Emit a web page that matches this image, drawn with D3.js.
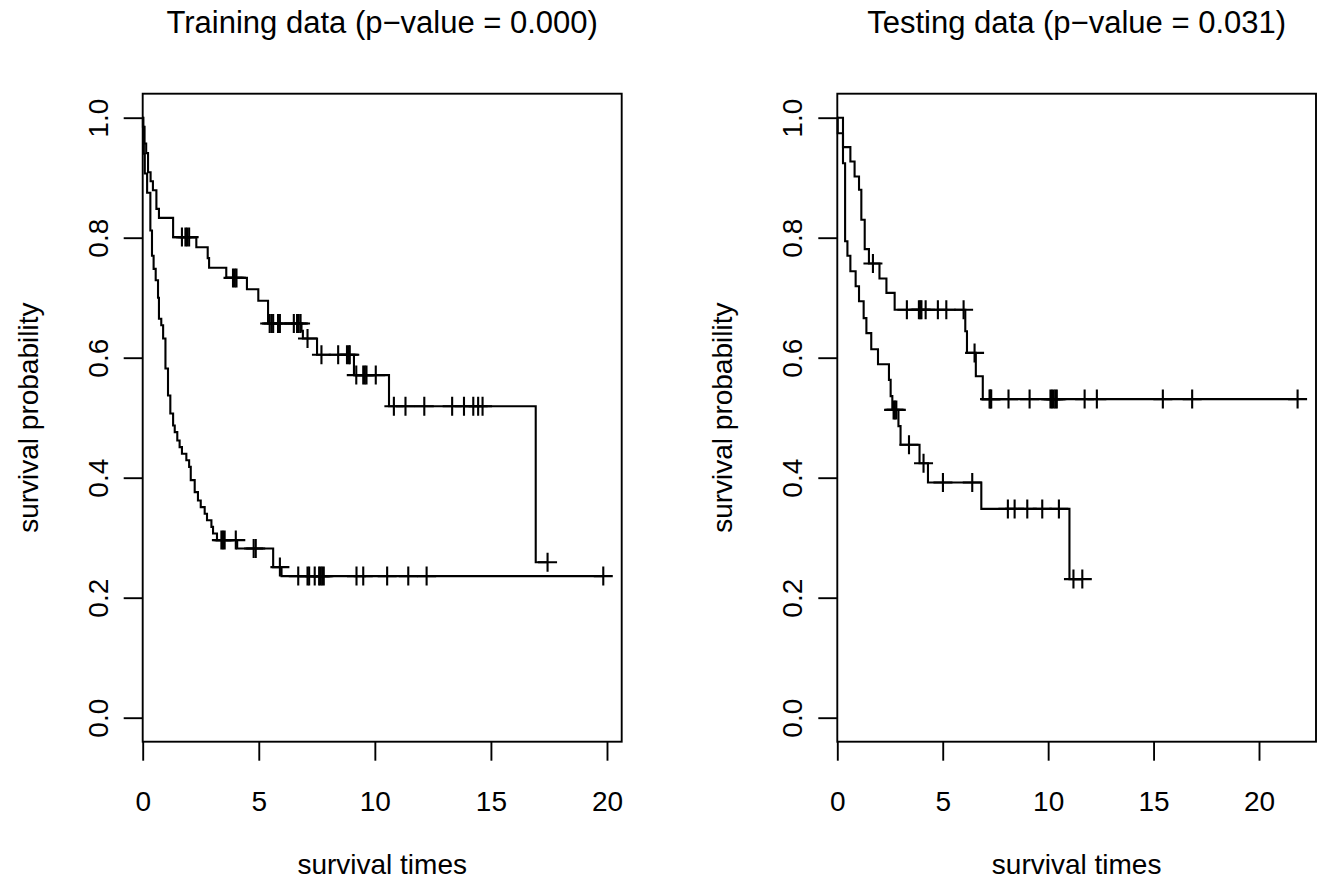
<!DOCTYPE html>
<html>
<head>
<meta charset="utf-8">
<script src="https://cdn.jsdelivr.net/npm/d3@7"></script>
<style>
  html, body { margin: 0; padding: 0; background: #fff; }
  svg text { font-family: "Liberation Sans", Arial, Helvetica, sans-serif; fill: #000; }
</style>
</head>
<body>
<div id="chart"></div>
<script>
// Kaplan-Meier curves: step times, survival after each step, censor times
const titles = ['Training data (p\u2212value = 0.000)', 'Testing data (p\u2212value = 0.031)'];
const xLabel = 'survival times';
const yLabel = 'survival probability';
const xTicks = [0, 5, 10, 15, 20];
const yTicks = [0, 0.2, 0.4, 0.6, 0.8, 1.0];

// training, low risk group
const trainLowTimes = [0.03, 0.08, 0.15, 0.23, 0.34, 0.44, 0.59, 0.70, 1.31, 2.31, 2.80, 2.86, 3.60, 4.49, 4.98, 5.40, 6.84, 6.90, 7.51, 9.10, 10.61, 16.93];
const trainLowSurv  = [0.985, 0.957, 0.941, 0.909, 0.894, 0.879, 0.848, 0.833, 0.801, 0.784, 0.766, 0.750, 0.733, 0.714, 0.695, 0.657, 0.645, 0.632, 0.605, 0.571, 0.519, 0.259];
const trainLowCensor = [1.69, 1.84, 1.91, 2.00, 3.89, 3.97, 4.04, 5.47, 5.55, 5.62, 5.83, 5.91, 6.51, 6.65, 6.72, 6.80, 7.10, 7.70, 8.42, 8.80, 8.88, 8.92, 9.20, 9.50, 9.57, 9.64, 10.04, 10.82, 11.32, 12.13, 13.33, 13.84, 14.24, 14.45, 14.64, 17.44];

// training, high risk group
const trainHighTimes = [0.01, 0.03, 0.05, 0.09, 0.19, 0.33, 0.40, 0.47, 0.56, 0.66, 0.70, 0.80, 0.88, 0.98, 1.09, 1.19, 1.31, 1.38, 1.49, 1.59, 1.69, 1.88, 2.00, 2.07, 2.24, 2.38, 2.50, 2.67, 2.77, 2.96, 3.03, 3.20, 4.07, 5.62, 5.98];
const trainHighSurv  = [0.985, 0.970, 0.940, 0.907, 0.875, 0.812, 0.770, 0.748, 0.729, 0.700, 0.665, 0.654, 0.632, 0.582, 0.537, 0.507, 0.487, 0.476, 0.462, 0.451, 0.440, 0.429, 0.418, 0.396, 0.376, 0.362, 0.351, 0.340, 0.329, 0.318, 0.307, 0.296, 0.282, 0.251, 0.236];
const trainHighCensor = [3.39, 3.46, 3.53, 4.01, 4.78, 4.87, 5.91, 6.70, 7.10, 7.17, 7.41, 7.60, 7.66, 7.73, 7.80, 9.21, 9.50, 10.53, 11.44, 12.23, 19.84];

// testing, low risk group
const testLowTimes = [0.27, 0.62, 0.82, 1.03, 1.14, 1.30, 1.50, 2.00, 2.33, 2.72, 6.07, 6.15, 6.57, 6.90];
const testLowSurv  = [0.951, 0.927, 0.902, 0.880, 0.830, 0.781, 0.757, 0.732, 0.708, 0.680, 0.644, 0.608, 0.569, 0.531];
const testLowCensor = [1.69, 3.30, 3.87, 3.94, 3.99, 4.19, 4.77, 5.17, 5.99, 6.51, 7.22, 7.26, 7.30, 8.12, 9.12, 10.11, 10.18, 10.26, 10.34, 10.41, 11.73, 12.31, 15.44, 16.83, 21.83];

// testing, high risk group
const testHighTimes = [0.02, 0.27, 0.37, 0.48, 0.62, 0.87, 1.03, 1.25, 1.38, 1.61, 1.93, 2.45, 2.53, 2.61, 2.90, 3.00, 3.90, 4.30, 6.83, 11.01];
const testHighSurv  = [0.974, 0.924, 0.794, 0.770, 0.744, 0.719, 0.694, 0.666, 0.641, 0.614, 0.589, 0.563, 0.536, 0.513, 0.486, 0.455, 0.424, 0.392, 0.348, 0.231];
const testHighCensor = [2.67, 2.73, 2.80, 3.40, 4.09, 5.01, 6.40, 8.09, 8.41, 9.01, 9.72, 10.51, 11.20, 11.62];

(function() {
  'use strict';

  const width = 1326;
  const height = 883;
  const top = 93.7;
  const bottom = 741.7;
  const tickLen = 19;
  const markSize = 9.5;

  const svg = d3.select('#chart')
    .append('svg')
    .attr('width', width)
    .attr('height', height);

  svg.append('rect')
    .attr('width', width)
    .attr('height', height)
    .attr('fill', '#fff');

  const panels = [
    {left: 142.7, right: 621.7, title: titles[0], curves: [
      {times: trainLowTimes, surv: trainLowSurv, censor: trainLowCensor},
      {times: trainHighTimes, surv: trainHighSurv, censor: trainHighCensor}
    ]},
    {left: 837.3, right: 1316, title: titles[1], curves: [
      {times: testLowTimes, surv: testLowSurv, censor: testLowCensor},
      {times: testHighTimes, surv: testHighSurv, censor: testHighCensor}
    ]}
  ];

  panels.forEach(drawPanel);

  function drawPanel(p) {
    // R's xaxs = "S": start at 0, pad the right by 4%
    let tmax = 0;
    p.curves.forEach(function(c) {
      tmax = Math.max(tmax, d3.max(c.times), d3.max(c.censor));
    });

    const x = d3.scaleLinear()
      .domain([0, tmax * 1.04])
      .range([p.left, p.right]);

    const y = d3.scaleLinear()
      .domain([-0.04, 1.04])
      .range([bottom, top]);

    const g = svg.append('g');

    const line = d3.line()
      .x(function(d) { return x(d[0]); })
      .y(function(d) { return y(d[1]); })
      .curve(d3.curveStepAfter);

    p.curves.forEach(function(c) {
      const pts = [[0, 1]];
      for (let i = 0; i < c.times.length; i++) {
        pts.push([c.times[i], c.surv[i]]);
      }
      const last = Math.max(d3.max(c.times), d3.max(c.censor));
      pts.push([last, c.surv[c.surv.length - 1]]);

      g.append('path')
        .attr('d', line(pts))
        .attr('fill', 'none')
        .attr('stroke', '#000')
        .attr('stroke-width', 2.1);

      const marks = c.censor.map(function(t) {
        let s = 1;
        for (let i = 0; i < c.times.length; i++) {
          if (c.times[i] <= t) s = c.surv[i];
        }
        return [t, s];
      });

      const m = g.selectAll(null)
        .data(marks)
        .enter()
        .append('g')
        .attr('transform', function(d) {
          return 'translate(' + x(d[0]) + ',' + y(d[1]) + ')';
        });

      m.append('path')
        .attr('d', 'M' + (-markSize) + ',0H' + markSize + 'M0,' + (-markSize) + 'V' + markSize)
        .attr('stroke', '#000')
        .attr('stroke-width', 2.1)
        .attr('fill', 'none');
    });

    // box
    g.append('rect')
      .attr('x', p.left)
      .attr('y', top)
      .attr('width', p.right - p.left)
      .attr('height', bottom - top)
      .attr('fill', 'none')
      .attr('stroke', '#000')
      .attr('stroke-width', 1.9);

    const xAxis = g.append('g')
      .attr('transform', 'translate(0,' + bottom + ')')
      .call(d3.axisBottom(x).tickValues(xTicks).tickSize(tickLen).tickPadding(0));
    xAxis.select('.domain').remove();
    xAxis.selectAll('.tick line').attr('stroke', '#000').attr('stroke-width', 1.9);
    xAxis.selectAll('.tick text')
      .attr('y', 69)
      .attr('dy', null)
      .style('font-size', '28px');

    const yAxis = g.append('g')
      .attr('transform', 'translate(' + p.left + ',0)')
      .call(d3.axisLeft(y).tickValues(yTicks).tickFormat(d3.format('.1f')).tickSize(tickLen).tickPadding(0));
    yAxis.select('.domain').remove();
    yAxis.selectAll('.tick line').attr('stroke', '#000').attr('stroke-width', 1.9);
    yAxis.selectAll('.tick text')
      .attr('x', null)
      .attr('dy', null)
      .attr('text-anchor', 'middle')
      .attr('transform', 'translate(-35,0) rotate(-90)')
      .style('font-size', '28px');

    const cx = (p.left + p.right) / 2;

    g.append('text')
      .attr('x', cx)
      .attr('y', 33)
      .attr('text-anchor', 'middle')
      .style('font-size', '31px')
      .text(p.title);

    g.append('text')
      .attr('x', cx)
      .attr('y', 874)
      .attr('text-anchor', 'middle')
      .style('font-size', '28px')
      .text(xLabel);

    g.append('text')
      .attr('transform', 'translate(' + (p.left - 105) + ',' + ((top + bottom) / 2) + ') rotate(-90)')
      .attr('text-anchor', 'middle')
      .style('font-size', '28px')
      .text(yLabel);
  }
})();
</script>
</body>
</html>
